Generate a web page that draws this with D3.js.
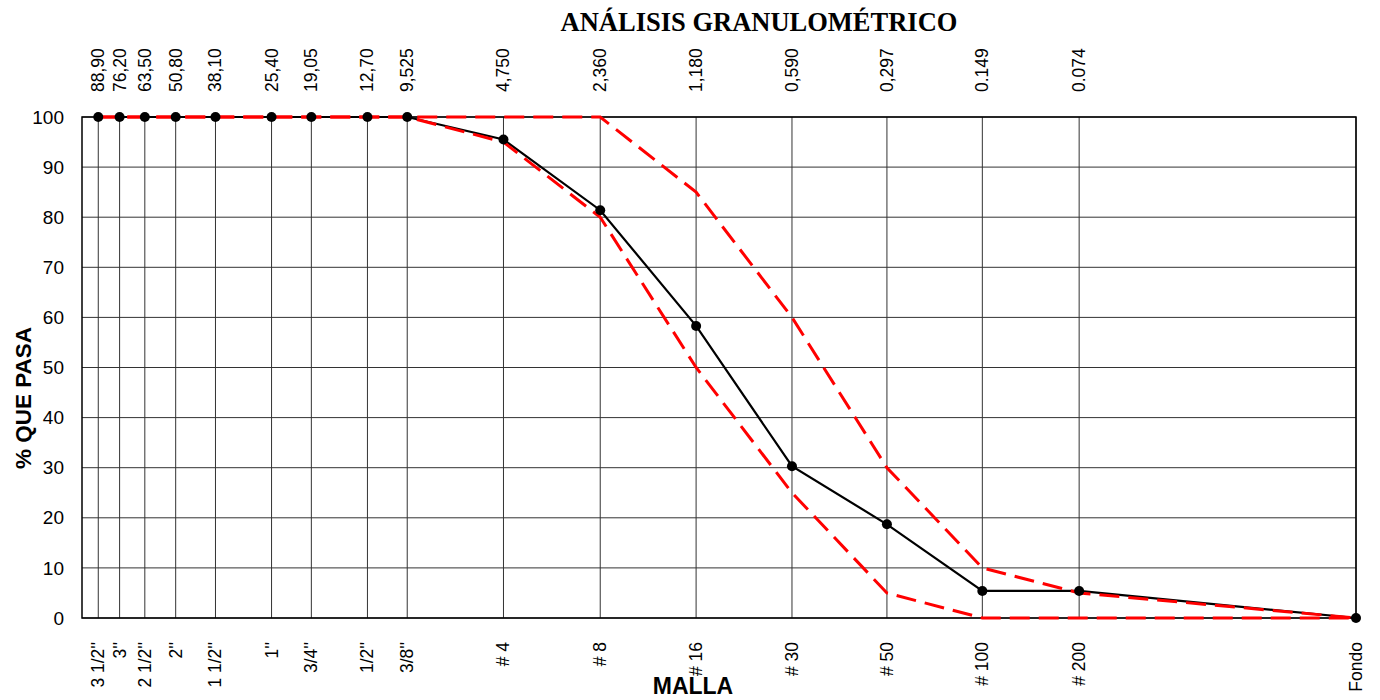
<!DOCTYPE html>
<html>
<head>
<meta charset="utf-8">
<script src="https://cdn.jsdelivr.net/npm/d3@7"></script>
<style>
  html, body { margin: 0; padding: 0; background: #fff; }
  svg { display: block; }
  .tick-label { font-family: "Liberation Sans", Arial, sans-serif; font-size: 17.5px; fill: #000; }
</style>
</head>
<body>
<svg id="chart" width="1380" height="700"></svg>
<script>
// Sieve designations (bottom axis), openings in mm (top axis) and % passing
const sieveLabels = ["3 1/2''", "3''", "2 1/2''", "2''", "1 1/2''", "1''", "3/4''", "1/2''", "3/8''",
  "# 4", "# 8", "# 16", "# 30", "# 50", "# 100", "# 200", "Fondo"];
// Fondo (pan) is placed at 0.01 mm on the log axis
const openings = [88.9, 76.2, 63.5, 50.8, 38.1, 25.4, 19.05, 12.7, 9.525,
  4.75, 2.36, 1.18, 0.59, 0.297, 0.149, 0.074, 0.01];
const openingLabels = ["88,90", "76,20", "63,50", "50,80", "38,10", "25,40", "19,05", "12,70", "9,525",
  "4,750", "2,360", "1,180", "0,590", "0,297", "0.149", "0.074", ""];
const percentPassing = [100, 100, 100, 100, 100, 100, 100, 100, 100,
  95.5, 81.4, 58.3, 30.3, 18.7, 5.4, 5.4, 0];
const upperLimit = [100, 100, 100, 100, 100, 100, 100, 100, 100,
  100, 100, 85, 60, 30, 10, 5, 0];
const lowerLimit = [100, 100, 100, 100, 100, 100, 100, 100, 100,
  95, 80, 50, 25, 5, 0, 0, 0];
const yTicks = [0, 10, 20, 30, 40, 50, 60, 70, 80, 90, 100];

const svg = d3.select("#chart");
const plotLeft = 82, plotRight = 1356, plotTop = 117, plotBottom = 618;

const x = d3.scaleLog().domain([100, 0.01]).range([plotLeft, plotRight]);
const y = d3.scaleLinear().domain([0, 100]).range([plotBottom, plotTop]);

// Title
svg.append("text")
  .attr("x", 759).attr("y", 31)
  .attr("text-anchor", "middle")
  .style("font-family", "'Liberation Serif', 'Times New Roman', serif")
  .style("font-weight", "bold")
  .style("font-size", "26.5px")
  .text("ANÁLISIS GRANULOMÉTRICO");

// Horizontal grid
svg.append("g").selectAll("line").data(yTicks).join("line")
  .attr("x1", plotLeft).attr("x2", plotRight)
  .attr("y1", d => y(d)).attr("y2", d => y(d))
  .attr("stroke", "#333").attr("stroke-width", 1);

// Vertical grid at each sieve
svg.append("g").selectAll("line").data(openings).join("line")
  .attr("x1", d => x(d)).attr("x2", d => x(d))
  .attr("y1", plotTop).attr("y2", plotBottom)
  .attr("stroke", "#333").attr("stroke-width", 1);

// Plot frame
svg.append("rect")
  .attr("x", plotLeft).attr("y", plotTop)
  .attr("width", plotRight - plotLeft).attr("height", plotBottom - plotTop)
  .attr("fill", "none").attr("stroke", "#000").attr("stroke-width", 1.5);

// Y axis tick labels
svg.append("g").selectAll("text").data(yTicks).join("text")
  .attr("class", "tick-label")
  .attr("x", 64).attr("y", d => y(d))
  .attr("dy", "0.35em")
  .attr("text-anchor", "end")
  .style("font-size", "19px")
  .text(d => d);

// Top labels: sieve openings (mm)
svg.append("g").selectAll("text").data(openings).join("text")
  .attr("class", "tick-label")
  .attr("transform", d => `translate(${x(d) + 6},92) rotate(-90)`)
  .attr("text-anchor", "start")
  .text((d, i) => openingLabels[i]);

// Bottom labels: sieve designations
svg.append("g").selectAll("text").data(openings).join("text")
  .attr("class", "tick-label")
  .attr("transform", d => `translate(${x(d) + 6},642) rotate(-90)`)
  .attr("text-anchor", "end")
  .text((d, i) => sieveLabels[i]);

// Axis titles
svg.append("text")
  .attr("transform", "translate(31,398) rotate(-90)")
  .attr("text-anchor", "middle")
  .style("font-family", "'Liberation Sans', Arial, sans-serif")
  .style("font-weight", "bold")
  .style("font-size", "22.5px")
  .text("% QUE PASA");

svg.append("text")
  .attr("x", 693).attr("y", 694)
  .attr("text-anchor", "middle")
  .style("font-family", "'Liberation Sans', Arial, sans-serif")
  .style("font-weight", "bold")
  .style("font-size", "23px")
  .text("MALLA");

const line = d3.line().x(d => x(d[0])).y(d => y(d[1]));
const pts = arr => openings.map((o, i) => [o, arr[i]]);

// Sample gradation curve
svg.append("path")
  .datum(pts(percentPassing))
  .attr("d", line)
  .attr("fill", "none").attr("stroke", "#000").attr("stroke-width", 2.2);

// Specification limits
[upperLimit, lowerLimit].forEach(arr => {
  svg.append("path")
    .datum(pts(arr))
    .attr("d", line)
    .attr("fill", "none").attr("stroke", "#ff0000")
    .attr("stroke-width", 3)
    .attr("stroke-dasharray", "20,9");
});

// Markers
svg.append("g").selectAll("circle").data(pts(percentPassing)).join("circle")
  .attr("cx", d => x(d[0])).attr("cy", d => y(d[1]))
  .attr("r", 5).attr("fill", "#000");
</script>
</body>
</html>
